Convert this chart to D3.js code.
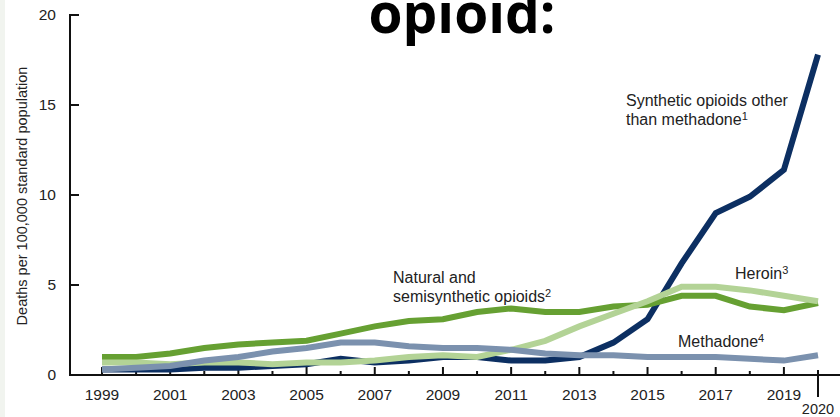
<!DOCTYPE html>
<html>
<head>
<meta charset="utf-8">
<script src="https://cdn.jsdelivr.net/npm/d3@7"></script>
<style>
  body { margin: 0; background: #fff; }
  svg { display: block; font-family: "Liberation Sans", Arial, sans-serif; }
  .tick-label { font-size: 15.5px; fill: #222; }
  .note { font-size: 16px; fill: #222; }
  .title { font-family: "Open Sans", sans-serif; font-weight: 700; font-size: 55px; fill: #000; }
</style>
</head>
<body>
<div id="chart"></div>
<script>
// data, deaths per 100,000 standard population
var years = [1999, 2000, 2001, 2002, 2003, 2004, 2005, 2006, 2007, 2008, 2009, 2010,
             2011, 2012, 2013, 2014, 2015, 2016, 2017, 2018, 2019, 2020];
var synthetic = [0.3, 0.3, 0.3, 0.4, 0.4, 0.5, 0.6, 0.9, 0.7, 0.8, 1.0, 1.0,
                 0.8, 0.8, 1.0, 1.8, 3.1, 6.2, 9.0, 9.9, 11.4, 17.8];
var heroin = [0.7, 0.7, 0.6, 0.7, 0.7, 0.6, 0.7, 0.7, 0.8, 1.0, 1.1, 1.0,
              1.4, 1.9, 2.7, 3.4, 4.1, 4.9, 4.9, 4.7, 4.4, 4.1];
var natural = [1.0, 1.0, 1.2, 1.5, 1.7, 1.8, 1.9, 2.3, 2.7, 3.0, 3.1, 3.5,
               3.7, 3.5, 3.5, 3.8, 3.9, 4.4, 4.4, 3.8, 3.6, 4.0];
var methadone = [0.3, 0.4, 0.5, 0.8, 1.0, 1.3, 1.5, 1.8, 1.8, 1.6, 1.5, 1.5,
                 1.4, 1.2, 1.1, 1.1, 1.0, 1.0, 1.0, 0.9, 0.8, 1.1];
var yTicks = [0, 5, 10, 15, 20];
var xLabels = [1999, 2001, 2003, 2005, 2007, 2009, 2011, 2013, 2015, 2017, 2019];

var width = 840;
var height = 417;

var svg = d3.select("#chart")
  .append("svg")
  .attr("width", width)
  .attr("height", height);

// faint strip on the left edge
svg.append("rect")
  .attr("x", 0).attr("y", 0)
  .attr("width", 5).attr("height", height)
  .attr("fill", "#f1f4ef");

// heading, cut off at the top like in the source
svg.append("text")
  .attr("class", "title")
  .attr("x", 462)
  .attr("y", 33)
  .attr("text-anchor", "middle")
  .text("opioid:");

var x = d3.scaleLinear().domain([1999, 2020]).range([102, 818]);
var y = d3.scaleLinear().domain([0, 20]).range([375, 15]);

// y axis
var yAxis = svg.append("g").attr("transform", "translate(70,0)");
yAxis.append("line")
  .attr("x1", 0).attr("x2", 0)
  .attr("y1", y(20) - 1).attr("y2", y(0))
  .attr("stroke", "#111").attr("stroke-width", 2);
yAxis.selectAll("line.tk")
  .data(yTicks)
  .enter().append("line")
  .attr("class", "tk")
  .attr("x1", 0).attr("x2", 9)
  .attr("y1", function(d) { return y(d); })
  .attr("y2", function(d) { return y(d); })
  .attr("stroke", "#111").attr("stroke-width", 2);
yAxis.selectAll("text")
  .data(yTicks)
  .enter().append("text")
  .attr("class", "tick-label")
  .attr("x", -14)
  .attr("y", function(d) { return y(d); })
  .attr("dy", "0.35em")
  .attr("text-anchor", "end")
  .text(function(d) { return d; });

svg.append("text")
  .attr("class", "tick-label")
  .attr("transform", "translate(27,196) rotate(-90)")
  .attr("text-anchor", "middle")
  .style("font-size", "14.5px")
  .text("Deaths per 100,000 standard population");

// x axis
var xAxis = svg.append("g");
xAxis.append("line")
  .attr("x1", 69).attr("x2", 840)
  .attr("y1", y(0)).attr("y2", y(0))
  .attr("stroke", "#111").attr("stroke-width", 2);
xAxis.selectAll("line.tk")
  .data(years.slice(0, years.length - 1))
  .enter().append("line")
  .attr("class", "tk")
  .attr("x1", function(d) { return x(d); })
  .attr("x2", function(d) { return x(d); })
  .attr("y1", y(0))
  .attr("y2", function(d) { return d % 2 == 1 ? y(0) - 8 : y(0) - 4; })
  .attr("stroke", "#111").attr("stroke-width", 2);
xAxis.append("line")
  .attr("x1", x(2020)).attr("x2", x(2020))
  .attr("y1", y(0) - 5).attr("y2", y(0) + 22)
  .attr("stroke", "#111").attr("stroke-width", 2);
xAxis.selectAll("text.yr")
  .data(xLabels)
  .enter().append("text")
  .attr("class", "tick-label yr")
  .attr("x", function(d) { return x(d); })
  .attr("y", 400)
  .attr("text-anchor", "middle")
  .text(function(d) { return d; });
xAxis.append("text")
  .attr("class", "tick-label")
  .attr("x", x(2020))
  .attr("y", 414)
  .attr("text-anchor", "middle")
  .style("font-size", "14.5px")
  .text("2020");

// lines, synthetic at the bottom
var line = d3.line()
  .x(function(d, i) { return x(years[i]); })
  .y(function(d) { return y(d); });

var series = [
  { values: synthetic, color: "#0c2f62" },
  { values: natural, color: "#66a032" },
  { values: heroin, color: "#b3d396" },
  { values: methadone, color: "#7b91ae" }
];

svg.selectAll("path.series")
  .data(series)
  .enter().append("path")
  .attr("class", "series")
  .attr("d", function(d) { return line(d.values); })
  .attr("fill", "none")
  .attr("stroke", function(d) { return d.color; })
  .attr("stroke-width", 6)
  .attr("stroke-linejoin", "miter");

// series labels
function note(lines, px, py, sup) {
  var t = svg.append("text").attr("class", "note");
  lines.forEach(function(s, i) {
    t.append("tspan")
      .attr("x", px)
      .attr("y", py + i * 19)
      .text(s);
  });
  t.append("tspan")
    .attr("dy", "-0.45em")
    .style("font-size", "11px")
    .text(sup);
}
note(["Synthetic opioids other", "than methadone"], 626, 106, "1");
note(["Natural and", "semisynthetic opioids"], 393, 283, "2");
note(["Heroin"], 735, 279, "3");
note(["Methadone"], 678, 347, "4");
</script>
</body>
</html>
